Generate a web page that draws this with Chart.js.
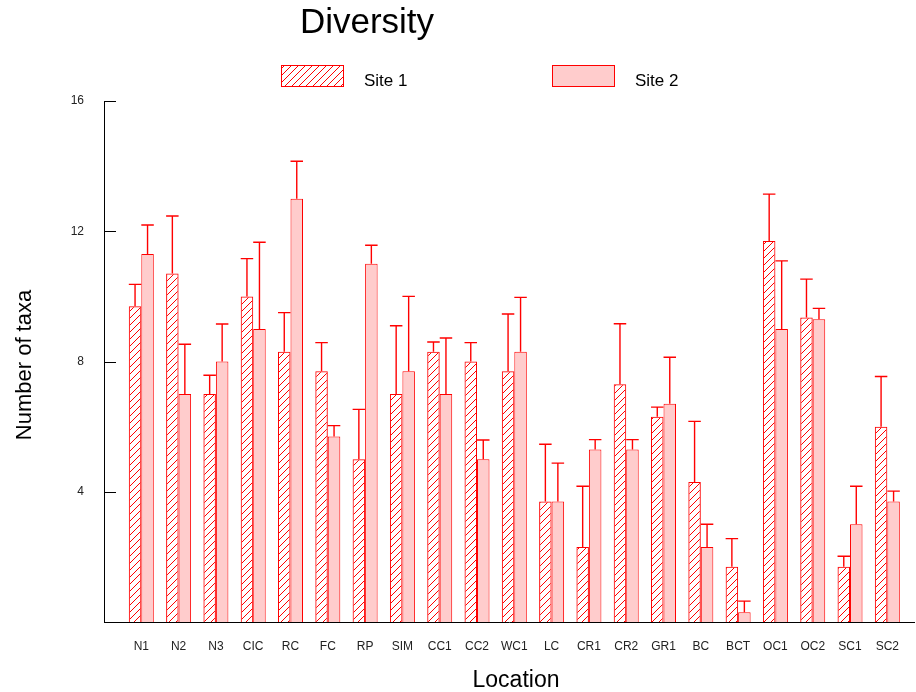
<!DOCTYPE html>
<html lang="en">
<head>
  <meta charset="UTF-8" />
  <title>Diversity</title>
  <script src="https://cdn.jsdelivr.net/npm/chart.js"></script>
  <style>
    body { margin: 0; background: white; }
    canvas { display: block; }
  </style>
</head>
<body>
  <canvas id="chart" width="916" height="692"></canvas>

  <script>
    // data
    const locations = ['N1', 'N2', 'N3', 'CIC', 'RC', 'FC', 'RP', 'SIM', 'CC1', 'CC2', 'WC1',
                       'LC', 'CR1', 'CR2', 'GR1', 'BC', 'BCT', 'OC1', 'OC2', 'SC1', 'SC2'];
    const site1 = [9.7, 10.7, 7.0, 10.0, 8.3, 7.7, 5.0, 7.0, 8.3, 8.0, 7.7,
                   3.7, 2.3, 7.3, 6.3, 4.3, 1.7, 11.7, 9.35, 1.7, 6.0];
    const site2 = [11.3, 7.0, 8.0, 9.0, 13.0, 5.7, 11.0, 7.7, 7.0, 5.0, 8.3,
                   3.7, 5.3, 5.3, 6.7, 2.3, 0.3, 9.0, 9.3, 3.0, 3.7];
    const err1 = [0.67, 1.77, 0.58, 1.16, 1.2, 0.88, 1.53, 2.1, 0.3, 0.58, 1.76,
                  1.76, 1.87, 1.86, 0.3, 1.86, 0.86, 1.44, 1.18, 0.32, 1.54];
    const err2 = [0.89, 1.53, 1.15, 2.66, 1.15, 0.33, 0.57, 2.3, 1.72, 0.59, 1.67,
                  1.18, 0.3, 0.3, 1.43, 0.7, 0.34, 2.09, 0.33, 1.17, 0.32];
    const yTicks = [4, 8, 12, 16];

    const FONT = "'Liberation Sans', Arial, sans-serif";
    const RED = '#ff0000';

    // diagonal hatch for site 1
    function makeHatch() {
      const c = document.createElement('canvas');
      c.width = 7; c.height = 7;
      const g = c.getContext('2d');
      g.strokeStyle = RED;
      g.lineWidth = 1;
      g.beginPath();
      g.moveTo(-1, 8); g.lineTo(8, -1);
      g.moveTo(-1, 1); g.lineTo(1, -1);
      g.moveTo(6, 8); g.lineTo(8, 6);
      g.stroke();
      return g.createPattern(c, 'repeat');
    }
    const hatch = makeHatch();

    const errorBars = {
      id: 'errorBars',
      afterDatasetsDraw(chart) {
        const ctx = chart.ctx;
        const y = chart.scales.y;
        ctx.save();
        ctx.strokeStyle = RED;
        ctx.lineWidth = 1.4;
        chart.data.datasets.forEach((ds, di) => {
          const meta = chart.getDatasetMeta(di);
          meta.data.forEach((bar, i) => {
            const top = y.getPixelForValue(ds.data[i].y + ds.errors[i]);
            const half = bar.width / 2;
            ctx.beginPath();
            ctx.moveTo(bar.x, bar.y);
            ctx.lineTo(bar.x, top);
            ctx.moveTo(bar.x - half, top);
            ctx.lineTo(bar.x + half, top);
            ctx.stroke();
          });
        });
        ctx.restore();
      }
    };

    // title, legend, axis titles and inward ticks
    const decorations = {
      id: 'decorations',
      afterDraw(chart) {
        const ctx = chart.ctx;
        const area = chart.chartArea;
        const y = chart.scales.y;
        ctx.save();

        ctx.strokeStyle = '#000';
        ctx.lineWidth = 1;
        yTicks.forEach(v => {
          const py = Math.round(y.getPixelForValue(v)) + 0.5;
          ctx.beginPath();
          ctx.moveTo(area.left, py);
          ctx.lineTo(area.left + 12, py);
          ctx.stroke();
        });

        ctx.fillStyle = '#000';
        ctx.textAlign = 'center';
        ctx.textBaseline = 'alphabetic';
        ctx.font = '35px ' + FONT;
        ctx.fillText('Diversity', 367, 33);

        ctx.font = '23px ' + FONT;
        ctx.fillText('Location', 516, 687);

        ctx.save();
        ctx.translate(31, 365);
        ctx.rotate(-Math.PI / 2);
        ctx.font = '22px ' + FONT;
        ctx.fillText('Number of taxa', 0, 0);
        ctx.restore();

        const legendX = [281, 552];
        ctx.font = '17px ' + FONT;
        ctx.textAlign = 'left';
        chart.data.datasets.forEach((ds, i) => {
          ctx.fillStyle = ds.backgroundColor;
          ctx.fillRect(legendX[i], 65, 62, 21);
          ctx.strokeStyle = RED;
          ctx.strokeRect(legendX[i] + 0.5, 65.5, 62, 21);
          ctx.fillStyle = '#000';
          ctx.fillText(ds.label, legendX[i] + 83, 86);
        });
        ctx.restore();
      }
    };

    new Chart(document.getElementById('chart').getContext('2d'), {
      type: 'bar',
      data: {
        datasets: [
          {
            label: 'Site 1',
            data: site1.map((v, i) => ({ x: i + 1, y: v })),
            errors: err1,
            backgroundColor: hatch,
            borderColor: RED,
            borderWidth: 1
          },
          {
            label: 'Site 2',
            data: site2.map((v, i) => ({ x: i + 1, y: v })),
            errors: err2,
            backgroundColor: '#ffcccc',
            borderColor: RED,
            borderWidth: 1
          }
        ]
      },
      options: {
        responsive: false,
        animation: false,
        categoryPercentage: 0.67,
        barPercentage: 1.0,
        layout: { padding: { top: 101, right: 0, bottom: 0, left: 0 } },
        plugins: {
          legend: { display: false },
          title: { display: false },
          tooltip: { enabled: false }
        },
        scales: {
          x: {
            type: 'linear',
            offset: false,
            min: 0,
            max: 21.74,
            grid: { display: false, drawTicks: false, tickLength: 0 },
            border: { color: '#000', width: 1 },
            afterBuildTicks: s => { s.ticks = locations.map((c, i) => ({ value: i + 1 })); },
            afterFit: s => { s.height = 70; },
            ticks: {
              autoSkip: false,
              maxRotation: 0,
              padding: 17,
              color: '#222',
              font: { family: FONT, size: 12 },
              callback: v => locations[v - 1] || ''
            }
          },
          y: {
            min: 0,
            max: 16,
            grid: { display: false, drawTicks: false, tickLength: 0 },
            border: { color: '#000', width: 1 },
            afterFit: s => { s.width = 104; },
            ticks: {
              stepSize: 4,
              padding: 20,
              color: '#222',
              font: { family: FONT, size: 12 },
              callback: v => v === 0 ? '' : v
            }
          }
        }
      },
      plugins: [errorBars, decorations]
    });
  </script>
</body>
</html>
